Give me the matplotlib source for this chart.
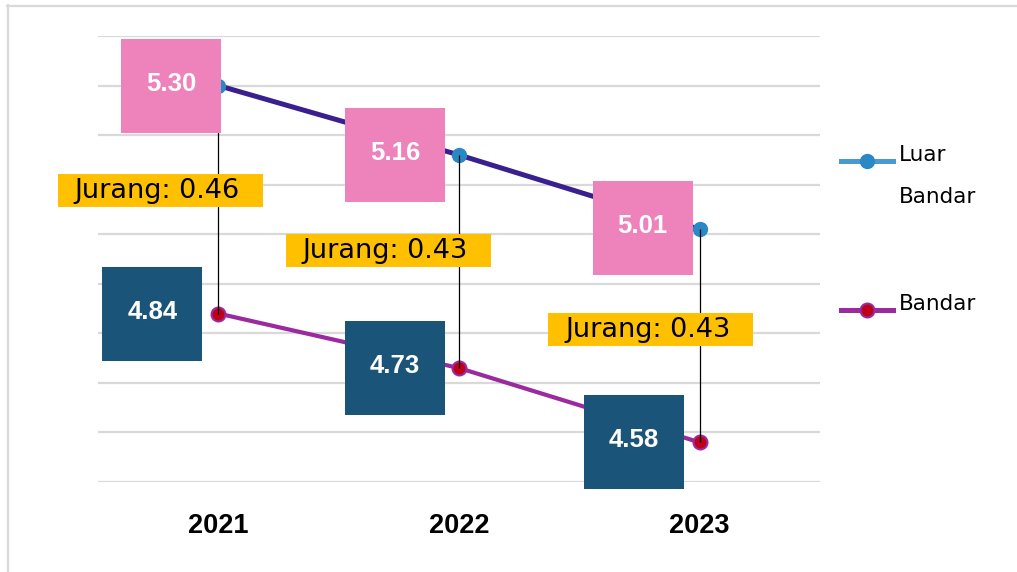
import matplotlib
matplotlib.use("Agg")
import matplotlib.pyplot as plt
from matplotlib.patches import Rectangle
from matplotlib.lines import Line2D
from matplotlib.transforms import ScaledTranslation

# ---- data ----
years = ["2021", "2022", "2023"]
luar_bandar = [5.30, 5.16, 5.01]
bandar = [4.84, 4.73, 4.58]
series_names = ["Luar Bandar", "Bandar"]

# ---- style ----
C_LUAR_LINE = "#3A1F8E"
C_LUAR_MARK = "#2A88C4"
C_LUAR_LEG = "#4A9ACF"
C_BAND_LINE = "#9A2A9E"
C_BAND_MARK = "#C00018"
C_PINK = "#EE82BA"
C_DARK = "#1A5478"
C_YELLOW = "#FFC000"
C_GRID = "#D9D9D9"

# label offsets in pixels (layout only)
pink_off = [(-47, 0), (-64, 0), (-57, 1)]
dark_off = [(-66, 0), (-64.5, 0), (-65.5, 0)]
gap_off = [(-58, 9), (-70.5, 10.5), (-49, 6)]
BOX_W, BOX_H = 100, 94
GAP_W, GAP_H = 205, 33

fig = plt.figure(figsize=(10.17, 5.72), dpi=100)
ax = fig.add_axes([98 / 1017, 90 / 572, 722 / 1017, 446 / 572])

x = list(range(len(years)))
ax.set_xlim(-0.5, len(years) - 0.5)
ax.set_ylim(4.5, 5.4)
ax.set_yticks([4.5 + 0.1 * i for i in range(10)])
ax.yaxis.grid(True, color=C_GRID, linewidth=1.6, zorder=0)
ax.set_axisbelow(True)
ax.tick_params(axis="y", length=0, labelleft=False)
ax.tick_params(axis="x", length=0, pad=22)
ax.set_xticks(x)
ax.set_xticklabels(years, fontsize=19.5, fontweight="bold",
                   family="Liberation Sans", color="black")
for s in ax.spines.values():
    s.set_visible(False)

ax.plot(x, luar_bandar, color=C_LUAR_LINE, linewidth=3.6, marker="o",
        markersize=10, markerfacecolor=C_LUAR_MARK, markeredgecolor=C_LUAR_MARK,
        zorder=2, label=series_names[0])
ax.plot(x, bandar, color=C_BAND_LINE, linewidth=3.0, marker="o",
        markersize=10, markerfacecolor=C_BAND_MARK, markeredgecolor=C_BAND_LINE,
        markeredgewidth=1.5, zorder=2, label=series_names[1])

ax.vlines(x, bandar, luar_bandar, color="black", linewidth=0.9, zorder=3)


def box_label(xi, yi, off, w, h, fc, text, tcolor, font, size, weight, tdx=0, tdy=0, z=4):
    tr = ScaledTranslation(xi, yi, ax.transData)
    ax.add_patch(Rectangle((off[0] - w / 2, off[1] - h / 2), w, h, transform=tr,
                           facecolor=fc, edgecolor="none", zorder=z, clip_on=False))
    ax.annotate(text, xy=(xi, yi), xytext=(off[0] + tdx, off[1] + tdy),
                textcoords="offset pixels", ha="center", va="center",
                color=tcolor, fontsize=size, fontweight=weight, family=font,
                zorder=z + 0.5, annotation_clip=False)


for i, xi in enumerate(x):
    box_label(xi, luar_bandar[i], pink_off[i], BOX_W, BOX_H, C_PINK,
              f"{luar_bandar[i]:.2f}", "white", "Liberation Sans", 18.5, "bold", tdy=2)
    box_label(xi, bandar[i], dark_off[i], BOX_W, BOX_H, C_DARK,
              f"{bandar[i]:.2f}", "white", "Liberation Sans", 18.5, "bold", tdy=2)
    mid = (luar_bandar[i] + bandar[i]) / 2
    gap = luar_bandar[i] - bandar[i]
    box_label(xi, mid, gap_off[i], GAP_W, GAP_H, C_YELLOW,
              f"Jurang: {gap:.2f}", "black", "DejaVu Sans", 19.5, "normal", tdx=-3, z=6)

# ---- legend (drawn manually to match layout) ----
W, H = 1017, 572


def fx(px):
    return px / W


def fy(py):
    return 1 - py / H


fig.add_artist(Line2D([fx(841), fx(893)], [fy(161), fy(161)], color=C_LUAR_LEG,
                      linewidth=3.6, transform=fig.transFigure))
fig.add_artist(Line2D([fx(867)], [fy(161)], marker="o", markersize=10,
                      markerfacecolor=C_LUAR_MARK, markeredgecolor=C_LUAR_MARK,
                      transform=fig.transFigure))
fig.add_artist(Line2D([fx(841), fx(893)], [fy(310), fy(310)], color=C_BAND_LINE,
                      linewidth=3.6, transform=fig.transFigure))
fig.add_artist(Line2D([fx(867)], [fy(310)], marker="o", markersize=10,
                      markerfacecolor=C_BAND_MARK, markeredgecolor=C_BAND_LINE,
                      markeredgewidth=1.5, transform=fig.transFigure))
fig.text(fx(899), fy(161.3), "Luar", fontsize=15.5, family="DejaVu Sans",
         ha="left", va="baseline")
fig.text(fx(899), fy(203.3), "Bandar", fontsize=15.5, family="DejaVu Sans",
         ha="left", va="baseline")
fig.text(fx(899), fy(310), series_names[1], fontsize=15.5, family="DejaVu Sans",
         ha="left", va="baseline")

# ---- outer frame (left and top edges) ----
fig.add_artist(Line2D([fx(7.5), fx(7.5)], [fy(5), 0], color=C_GRID, linewidth=1.6,
                      transform=fig.transFigure))
fig.add_artist(Line2D([fx(7), 1], [fy(5.5), fy(5.5)], color=C_GRID, linewidth=1.6,
                      transform=fig.transFigure))

fig.savefig("out.png", dpi=100)
